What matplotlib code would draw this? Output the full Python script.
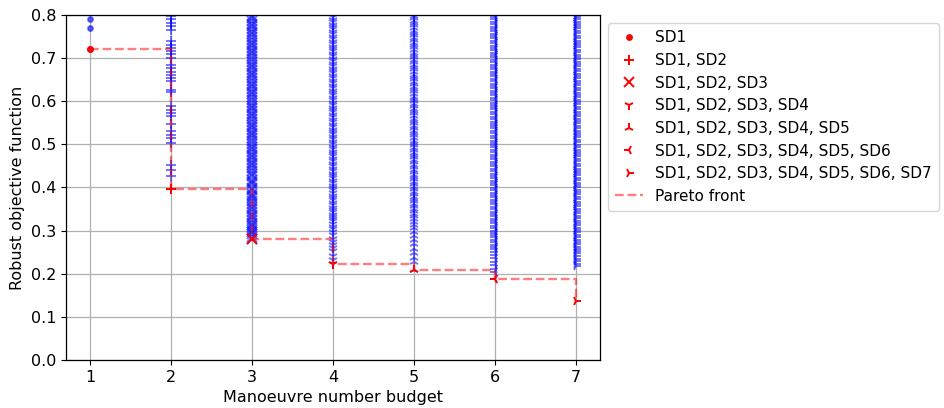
import matplotlib
matplotlib.use("Agg")
import matplotlib.pyplot as plt

# budgets and best (Pareto) value for each budget
budgets = [1, 2, 3, 4, 5, 6, 7]
pareto = [0.721, 0.397, 0.281, 0.222, 0.209, 0.188, 0.137]

labels = ["SD1", "SD1, SD2", "SD1, SD2, SD3", "SD1, SD2, SD3, SD4",
          "SD1, SD2, SD3, SD4, SD5", "SD1, SD2, SD3, SD4, SD5, SD6",
          "SD1, SD2, SD3, SD4, SD5, SD6, SD7"]
markers = [".", "+", "x", "1", "2", "3", "4"]

# all evaluated solutions per budget (only the part inside 0..0.8 is visible)
sol1 = [0.790, 0.769, 0.721]
sol2 = [0.797, 0.790, 0.782, 0.774, 0.766, 0.739, 0.731, 0.724, 0.716, 0.709,
        0.701, 0.684, 0.677, 0.669, 0.661, 0.654, 0.646, 0.627, 0.621, 0.588,
        0.580, 0.573, 0.565, 0.548, 0.530, 0.522, 0.515, 0.503, 0.452, 0.441,
        0.426, 0.397]
sol3 = [0.281, 0.284, 0.291, 0.297, 0.302, 0.308, 0.313, 0.317, 0.324, 0.331,
        0.336, 0.343, 0.349, 0.355, 0.362, 0.368, 0.375, 0.381, 0.386, 0.394,
        0.399, 0.407, 0.413, 0.418, 0.426, 0.431, 0.438, 0.445, 0.451, 0.457,
        0.463, 0.470, 0.476, 0.482, 0.489, 0.495, 0.502, 0.508, 0.514, 0.521,
        0.527, 0.533, 0.540, 0.546, 0.552, 0.559, 0.565, 0.571, 0.578, 0.584,
        0.590, 0.597, 0.603, 0.609, 0.616, 0.622, 0.628, 0.635, 0.641, 0.647,
        0.654, 0.660, 0.666, 0.673, 0.679, 0.685, 0.692, 0.698, 0.704, 0.711,
        0.717, 0.723, 0.730, 0.736, 0.742, 0.749, 0.755, 0.761, 0.768, 0.774,
        0.780, 0.787, 0.793, 0.799]
sol4 = [0.222, 0.232, 0.241, 0.252, 0.259, 0.266, 0.274, 0.281, 0.289, 0.296,
        0.303, 0.309, 0.316, 0.322, 0.327, 0.332, 0.337, 0.342, 0.348, 0.353,
        0.359, 0.364, 0.370, 0.376, 0.381, 0.387, 0.393, 0.398, 0.404, 0.410,
        0.415, 0.421, 0.427, 0.432, 0.438, 0.444, 0.449, 0.455, 0.461, 0.466,
        0.472, 0.478, 0.483, 0.489, 0.495, 0.500, 0.506, 0.512, 0.517, 0.523,
        0.529, 0.534, 0.540, 0.546, 0.551, 0.557, 0.563, 0.568, 0.574, 0.580,
        0.585, 0.591, 0.597, 0.602, 0.608, 0.614, 0.619, 0.625, 0.631, 0.636,
        0.642, 0.648, 0.653, 0.659, 0.665, 0.670, 0.676, 0.682, 0.687, 0.693,
        0.699, 0.704, 0.710, 0.716, 0.721, 0.727, 0.733, 0.738, 0.744, 0.750,
        0.755, 0.761, 0.767, 0.772, 0.778, 0.784, 0.789, 0.795, 0.800]
sol5 = [0.209, 0.226, 0.236, 0.248, 0.257, 0.268, 0.279, 0.288, 0.297, 0.306,
        0.314, 0.321, 0.328, 0.334, 0.339, 0.345, 0.351, 0.356, 0.362, 0.368,
        0.373, 0.379, 0.385, 0.390, 0.396, 0.402, 0.407, 0.413, 0.419, 0.424,
        0.430, 0.436, 0.441, 0.447, 0.453, 0.458, 0.464, 0.470, 0.475, 0.481,
        0.487, 0.492, 0.498, 0.504, 0.509, 0.515, 0.521, 0.526, 0.532, 0.538,
        0.543, 0.549, 0.555, 0.560, 0.566, 0.572, 0.577, 0.583, 0.589, 0.594,
        0.600, 0.606, 0.611, 0.617, 0.623, 0.628, 0.634, 0.640, 0.645, 0.651,
        0.657, 0.662, 0.668, 0.674, 0.679, 0.685, 0.691, 0.696, 0.702, 0.708,
        0.713, 0.719, 0.725, 0.730, 0.736, 0.742, 0.747, 0.753, 0.759, 0.764,
        0.770, 0.776, 0.781, 0.787, 0.793, 0.798]
sol6 = [0.188, 0.203, 0.211, 0.219, 0.228, 0.236, 0.244, 0.251, 0.257, 0.262,
        0.267, 0.273, 0.278, 0.284, 0.289, 0.295, 0.300, 0.306, 0.311, 0.317,
        0.322, 0.328, 0.333, 0.339, 0.344, 0.350, 0.355, 0.361, 0.366, 0.372,
        0.377, 0.383, 0.388, 0.394, 0.399, 0.405, 0.410, 0.416, 0.421, 0.427,
        0.432, 0.438, 0.443, 0.449, 0.454, 0.460, 0.465, 0.471, 0.476, 0.482,
        0.487, 0.493, 0.498, 0.504, 0.509, 0.515, 0.520, 0.526, 0.531, 0.537,
        0.542, 0.548, 0.553, 0.559, 0.564, 0.570, 0.575, 0.581, 0.586, 0.592,
        0.597, 0.603, 0.608, 0.614, 0.619, 0.625, 0.630, 0.636, 0.641, 0.647,
        0.652, 0.658, 0.663, 0.669, 0.674, 0.680, 0.685, 0.691, 0.696, 0.702,
        0.707, 0.713, 0.718, 0.724, 0.729, 0.735, 0.740, 0.746, 0.751, 0.757,
        0.762, 0.768, 0.773, 0.779, 0.784, 0.790, 0.795, 0.800]
sol7 = [0.217, 0.223, 0.229, 0.235, 0.241, 0.247, 0.252, 0.257, 0.263, 0.268,
        0.274, 0.279, 0.285, 0.290, 0.296, 0.301, 0.307, 0.312, 0.318, 0.323,
        0.329, 0.334, 0.340, 0.345, 0.351, 0.356, 0.362, 0.367, 0.373, 0.378,
        0.384, 0.389, 0.395, 0.400, 0.406, 0.411, 0.417, 0.422, 0.428, 0.433,
        0.439, 0.444, 0.450, 0.455, 0.461, 0.466, 0.472, 0.477, 0.483, 0.488,
        0.494, 0.499, 0.505, 0.510, 0.516, 0.521, 0.527, 0.532, 0.538, 0.543,
        0.549, 0.554, 0.560, 0.565, 0.571, 0.576, 0.582, 0.587, 0.593, 0.598,
        0.604, 0.609, 0.615, 0.620, 0.626, 0.631, 0.637, 0.642, 0.648, 0.653,
        0.659, 0.664, 0.670, 0.675, 0.681, 0.686, 0.692, 0.697, 0.703, 0.708,
        0.714, 0.719, 0.725, 0.730, 0.736, 0.741, 0.747, 0.752, 0.758, 0.763,
        0.769, 0.774, 0.780, 0.785, 0.791, 0.796, 0.800]
solutions = [sol1, sol2, sol3, sol4, sol5, sol6, sol7]

plt.rcParams["font.size"] = 11.5
plt.rcParams["lines.markersize"] = 7

fig = plt.figure(figsize=(9.45, 4.08), dpi=100)
ax = fig.add_axes([0.070, 0.118, 0.565, 0.845])

# blue clouds of every solution
for n, sols, m in zip(budgets, solutions, markers):
    ax.plot([n] * len(sols), sols, m, color="blue", alpha=0.55,
            linestyle="none", markeredgewidth=1.4)

# best solution for each budget in red
for n, best, m, lab in zip(budgets, pareto, markers, labels):
    ax.plot([n], [best], m, color="red", linestyle="none",
            markeredgewidth=1.4, label=lab)

ax.plot(budgets, pareto, "--", color="red", alpha=0.5, lw=1.7,
        drawstyle="steps-post", label="Pareto front")

ax.set_ylim(0, 0.8)
ax.set_xticks(budgets)
ax.grid(True, color="#b0b0b0", lw=0.9)
for s in ax.spines.values():
    s.set_linewidth(0.9)
ax.set_xlabel("Manoeuvre number budget")
ax.set_ylabel("Robust objective function")
ax.legend(loc="upper left", bbox_to_anchor=(1.0, 1.0), fontsize=11,
          handlelength=1.8, borderpad=0.5)

fig.savefig("out.png", dpi=100)
